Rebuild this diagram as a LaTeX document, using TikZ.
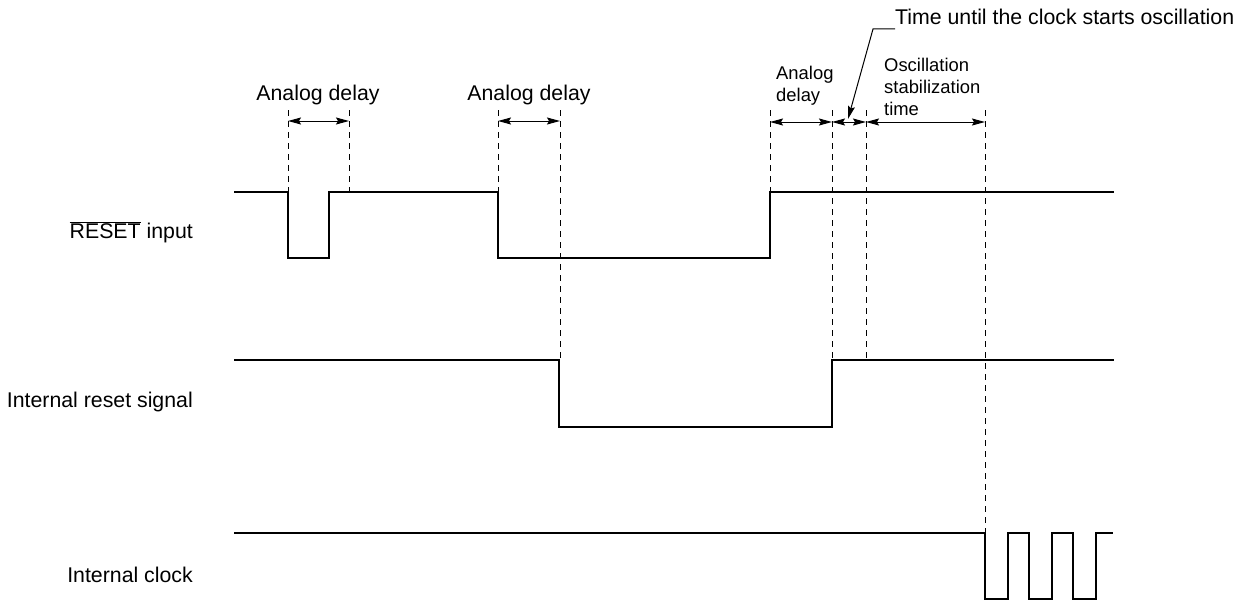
\documentclass[tikz,border=0pt]{standalone}
\usepackage{fontspec}
\setmainfont{Liberation Sans}
\usetikzlibrary{arrows.meta}
\begin{document}
\begin{tikzpicture}[x=1pt,y=-1pt,
  sig/.style={line width=2.6pt,line join=miter},
  guide/.style={line width=1pt,dash pattern=on 6pt off 5pt},
  dim/.style={line width=1pt,{Stealth[length=13pt,width=7pt,inset=2pt]}-{Stealth[length=13pt,width=7pt,inset=2pt]}},
  lbl/.style={font=\fontsize{21.3}{24}\selectfont,inner sep=0pt,anchor=base},
  slbl/.style={font=\fontsize{18.4}{22}\selectfont,inner sep=0pt,align=left,anchor=base west}
]
\useasboundingbox (0,0) rectangle (1242,602);

% signal labels
\node[lbl,anchor=base east] (lreset) at (193,238) {$\overline{\mbox{RESET}}$ input};
\node[lbl,anchor=base east] (lint) at (193,407) {Internal reset signal};
\node[lbl,anchor=base east] (lclk) at (193,582) {Internal clock};

% waveforms
\draw[sig] (234,192) -- (288,192) -- (288,258) -- (329,258) -- (329,192) -- (498,192)
  -- (498,258) -- (770,258) -- (770,192) -- (1114,192);
\draw[sig] (234,360) -- (559,360) -- (559,427) -- (832,427) -- (832,360) -- (1114,360);
\draw[sig] (234,533) -- (985,533) -- (985,599) -- (1008,599) -- (1008,533) -- (1029,533)
  -- (1029,599) -- (1052,599) -- (1052,533) -- (1073,533) -- (1073,599) -- (1096,599)
  -- (1096,533) -- (1113,533);

% guide lines
\coordinate (g1) at (288,110); \coordinate (g2) at (349,110);
\coordinate (g3) at (498,110); \coordinate (g4) at (560,110);
\coordinate (g5) at (770,110); \coordinate (g6) at (832,110);
\coordinate (g7) at (866,110); \coordinate (g8) at (985,110);
\draw[guide] (g1) -- (288,192);
\draw[guide] (g2) -- (349,192);
\draw[guide] (g3) -- (498,192);
\draw[guide] (g4) -- (560,360);
\draw[guide] (g5) -- (770,192);
\draw[guide] (g6) -- (832,360);
\draw[guide] (g7) -- (866,360);
\draw[guide] (g8) -- (985,533);

% dimension arrows
\coordinate (a1) at (288,121); \coordinate (a2) at (349,121);
\coordinate (a3) at (498,121); \coordinate (a4) at (560,121);
\coordinate (a5) at (770,122); \coordinate (a6) at (832,122);
\coordinate (a7) at (866,122); \coordinate (a8) at (985,122);
\draw[dim] (a1) -- (a2);
\draw[dim] (a3) -- (a4);
\draw[dim] (a5) -- (a6);
\draw[dim] (a6) -- (a7);
\draw[dim] (a7) -- (a8);

% labels
\node[lbl] (t1) at (318,100) {Analog delay};
\node[lbl] (t2) at (529,100) {Analog delay};
\node[slbl] (t3) at (776,101) {Analog\\delay};
\node[slbl] (t4) at (884,115) {Oscillation\\stabilization\\time};
\node[lbl,anchor=base west] (t5) at (895,25) {Time until the clock starts oscillation};
\coordinate (k1) at (873,29);
\coordinate (tip) at (848,119);
\draw[line width=1pt,-{Stealth[length=13pt,width=7pt,inset=2pt]}] (t5.base west |- 0,29) -- (k1) -- (tip);
\end{tikzpicture}
\end{document}
